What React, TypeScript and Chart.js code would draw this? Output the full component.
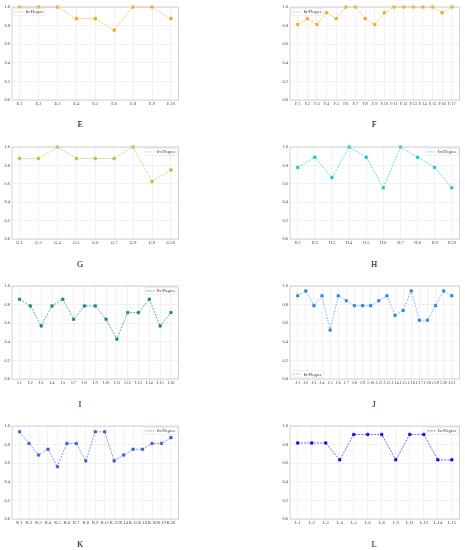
import React, { useEffect, useRef } from 'react';
import { Chart, registerables } from 'chart.js';

Chart.register(...registerables);

// ---------- data ----------
const eLabels = ['E.1', 'E.2', 'E.3', 'E.4', 'E.5', 'E.6', 'E.8', 'E.9', 'E.10'];
const eValues = [1, 1, 1, 0.875, 0.875, 0.75, 1, 1, 0.875];

const fLabels = ['F.1', 'F.2', 'F.3', 'F.4', 'F.5', 'F.6', 'F.7', 'F.8', 'F.9', 'F.10', 'F.11', 'F.12', 'F.13', 'F.14', 'F.15', 'F.16', 'F.17'];
const fValues = [0.8125, 0.875, 0.8125, 0.9375, 0.875, 1, 1, 0.875, 0.8125, 0.9375, 1, 1, 1, 1, 1, 0.9375, 1];

const gLabels = ['G.1', 'G.3', 'G.4', 'G.5', 'G.6', 'G.7', 'G.8', 'G.9', 'G.10'];
const gValues = [0.875, 0.875, 1, 0.875, 0.875, 0.875, 1, 0.625, 0.75];

const hLabels = ['H.1', 'H.2', 'H.3', 'H.4', 'H.5', 'H.6', 'H.7', 'H.8', 'H.9', 'H.10'];
const hValues = [0.778, 0.889, 0.667, 1, 0.889, 0.556, 1, 0.889, 0.778, 0.556];

const iLabels = ['I.1', 'I.2', 'I.3', 'I.4', 'I.5', 'I.7', 'I.8', 'I.9', 'I.10', 'I.11', 'I.12', 'I.13', 'I.14', 'I.15', 'I.16'];
const iValues = [0.857, 0.786, 0.571, 0.786, 0.857, 0.643, 0.786, 0.786, 0.643, 0.429, 0.714, 0.714, 0.857, 0.571, 0.714];

const jLabels = ['J.1', 'J.2', 'J.3', 'J.4', 'J.5', 'J.6', 'J.7', 'J.8', 'J.9', 'J.10', 'J.12', 'J.13', 'J.14', 'J.15', 'J.16', 'J.17', 'J.18', 'J.19', 'J.20', 'J.21'];
const jValues = [0.895, 0.947, 0.789, 0.895, 0.526, 0.895, 0.842, 0.789, 0.789, 0.789, 0.842, 0.895, 0.684, 0.737, 0.947, 0.632, 0.632, 0.789, 0.947, 0.895];

const kLabels = ['K.1', 'K.2', 'K.3', 'K.4', 'K.5', 'K.6', 'K.7', 'K.8', 'K.9', 'K.11', 'K.13', 'K.14', 'K.15', 'K.16', 'K.18', 'K.19', 'K.20'];
const kValues = [0.9375, 0.8125, 0.6875, 0.75, 0.5625, 0.8125, 0.8125, 0.625, 0.9375, 0.9375, 0.625, 0.6875, 0.75, 0.75, 0.8125, 0.8125, 0.875];

const lLabels = ['L.1', 'L.2', 'L.3', 'L.4', 'L.5', 'L.6', 'L.8', 'L.9', 'L.11', 'L.12', 'L.14', 'L.15'];
const lValues = [0.818, 0.818, 0.818, 0.636, 0.909, 0.909, 0.909, 0.636, 0.909, 0.909, 0.636, 0.636];

const yTicks = [0, 0.2, 0.4, 0.6, 0.8, 1.0];
const seriesName = 'In-Degree';

// ---------- layout & style ----------
const SERIF = '"Liberation Serif", "DejaVu Serif", serif';

const COLS = [
  { canvasLeft: 0, yW: 12, plotRight: 181, titleX: 80 },
  { canvasLeft: 276, yW: 14, plotRight: 462, titleX: 374 },
];
const ROWS = [
  { top: 7, bottom: 100, titleY: 124 },
  { top: 147, bottom: 239, titleY: 263.5 },
  { top: 286, bottom: 379, titleY: 403.5 },
  { top: 426, bottom: 519, titleY: 543.5 },
];
const PAD_TOP = 6;
const PAD_RIGHT = 2;
const X_H = 9;

type Panel = {
  title: string;
  labels: string[];
  values: number[];
  line: string;
  point: string;
  legend: 'tl' | 'tr' | 'bl';
  col: number;
  row: number;
};

const PANELS: Panel[] = [
  { title: 'E', labels: eLabels, values: eValues, line: '#f5c24e', point: '#eea81a', legend: 'tl', col: 0, row: 0 },
  { title: 'F', labels: fLabels, values: fValues, line: '#f5c24e', point: '#eea81a', legend: 'tl', col: 1, row: 0 },
  { title: 'G', labels: gLabels, values: gValues, line: '#b8dc6e', point: '#9acd32', legend: 'tr', col: 0, row: 1 },
  { title: 'H', labels: hLabels, values: hValues, line: '#4fd8dc', point: '#10c4cc', legend: 'tr', col: 1, row: 1 },
  { title: 'I', labels: iLabels, values: iValues, line: '#49a8a8', point: '#138585', legend: 'tr', col: 0, row: 2 },
  { title: 'J', labels: jLabels, values: jValues, line: '#7ab8f2', point: '#2a84e0', legend: 'bl', col: 1, row: 2 },
  { title: 'K', labels: kLabels, values: kValues, line: '#7590e8', point: '#3a5cd6', legend: 'tr', col: 0, row: 3 },
  { title: 'L', labels: lLabels, values: lValues, line: '#5a5af2', point: '#0a0ae6', legend: 'tr', col: 1, row: 3 },
];

const framePlugin = {
  id: 'frameBox',
  afterDraw(chart: any) {
    const { ctx, chartArea: a } = chart;
    ctx.save();
    ctx.strokeStyle = '#c8c8c8';
    ctx.lineWidth = 0.8;
    ctx.strokeRect(a.left, a.top, a.right - a.left, a.bottom - a.top);
    ctx.restore();
  },
};

const inLegendPlugin = {
  id: 'inLegend',
  afterDraw(chart: any, _args: any, opts: any) {
    const { ctx, chartArea: a } = chart;
    const ds = chart.data.datasets[0];
    ctx.save();
    ctx.font = `4.6px ${SERIF}`;
    const text = ds.label as string;
    const tw = ctx.measureText(text).width;
    const lineLen = 8;
    const gap = 2.5;
    const padX = 1.6;
    const h = 7;
    const m = 1.4;
    const w = padX + lineLen + gap + tw + padX;
    const corner: string = opts.corner || 'tl';
    const x = corner.includes('l') ? a.left + m : a.right - m - w;
    const y = corner.startsWith('t') ? a.top + m : a.bottom - m - h;
    ctx.fillStyle = 'rgba(255,255,255,0.85)';
    ctx.strokeStyle = '#dadada';
    ctx.lineWidth = 0.5;
    ctx.beginPath();
    if ((ctx as any).roundRect) (ctx as any).roundRect(x, y, w, h, 1);
    else ctx.rect(x, y, w, h);
    ctx.fill();
    ctx.stroke();
    ctx.strokeStyle = ds.borderColor;
    ctx.lineWidth = 0.9;
    ctx.setLineDash([2, 1.2]);
    ctx.beginPath();
    ctx.moveTo(x + padX, y + h / 2);
    ctx.lineTo(x + padX + lineLen, y + h / 2);
    ctx.stroke();
    ctx.setLineDash([]);
    ctx.fillStyle = '#333';
    ctx.textBaseline = 'middle';
    ctx.textAlign = 'left';
    ctx.fillText(text, x + padX + lineLen + gap, y + h / 2 + 0.3);
    ctx.restore();
  },
};

function geometry(p: Panel) {
  const c = COLS[p.col];
  const r = ROWS[p.row];
  const canvasTop = r.top - PAD_TOP;
  const plotH = r.bottom - r.top;
  const width = c.plotRight + PAD_RIGHT - c.canvasLeft;
  const height = PAD_TOP + plotH + X_H;
  return { left: c.canvasLeft, top: canvasTop, width, height, yW: c.yW };
}

function PanelChart({ p }: { p: Panel }) {
  const ref = useRef<HTMLCanvasElement | null>(null);
  const g = geometry(p);

  useEffect(() => {
    if (!ref.current) return;
    const n = p.labels.length;
    const margin = 0.05 * (n - 1);
    const chart = new Chart(ref.current, {
      type: 'line',
      data: {
        datasets: [
          {
            label: seriesName,
            data: p.values.map((v, i) => ({ x: i, y: v })),
            borderColor: p.line,
            borderWidth: 0.9,
            borderDash: [2, 1.2],
            pointStyle: 'rect',
            pointRadius: 1.8,
            pointBackgroundColor: p.point,
            pointBorderColor: p.point,
            pointBorderWidth: 0.5,
            tension: 0,
            clip: 4,
          } as any,
        ],
      },
      options: {
        animation: false,
        responsive: false,
        layout: { padding: { top: PAD_TOP, right: PAD_RIGHT, left: 0, bottom: 0 } },
        plugins: {
          legend: { display: false },
          tooltip: { enabled: false },
          inLegend: { corner: p.legend },
        } as any,
        scales: {
          x: {
            type: 'linear',
            min: -margin,
            max: n - 1 + margin,
            afterBuildTicks: (scale: any) => {
              scale.ticks = p.labels.map((_, i) => ({ value: i }));
            },
            afterFit: (scale: any) => {
              scale.height = X_H;
            },
            grid: { color: '#e8e8e8', lineWidth: 0.6, drawTicks: false },
            border: { display: false },
            ticks: {
              autoSkip: false,
              maxRotation: 0,
              minRotation: 0,
              padding: 1.5,
              color: '#444',
              font: { family: SERIF, size: 4.4 },
              callback: (v: any) => p.labels[Math.round(Number(v))] ?? '',
            },
          },
          y: {
            type: 'linear',
            min: 0,
            max: 1,
            afterBuildTicks: (scale: any) => {
              scale.ticks = yTicks.map((v) => ({ value: v }));
            },
            afterFit: (scale: any) => {
              scale.width = g.yW;
            },
            grid: { color: '#e8e8e8', lineWidth: 0.6, drawTicks: false },
            border: { display: false },
            ticks: {
              padding: 2,
              color: '#444',
              font: { family: SERIF, size: 4.5 },
              callback: (v: any) => Number(v).toFixed(1),
            },
          },
        },
      },
      plugins: [framePlugin, inLegendPlugin],
    });
    return () => chart.destroy();
  }, []);

  return (
    <canvas
      ref={ref}
      width={g.width}
      height={g.height}
      style={{ position: 'absolute', left: g.left, top: g.top, width: g.width, height: g.height }}
    />
  );
}

export default function App() {
  return (
    <div style={{ position: 'absolute', left: 0, top: 0, width: 465, height: 550, background: '#fff', overflow: 'hidden' }}>
      {PANELS.map((p) => (
        <PanelChart key={p.title} p={p} />
      ))}
      {PANELS.map((p) => (
        <div
          key={'t' + p.title}
          style={{
            position: 'absolute',
            left: COLS[p.col].titleX,
            top: ROWS[p.row].titleY,
            transform: 'translate(-50%, -50%)',
            fontFamily: SERIF,
            fontSize: 8.5,
            lineHeight: '9px',
            color: '#000',
          }}
        >
          {p.title}
        </div>
      ))}
    </div>
  );
}
